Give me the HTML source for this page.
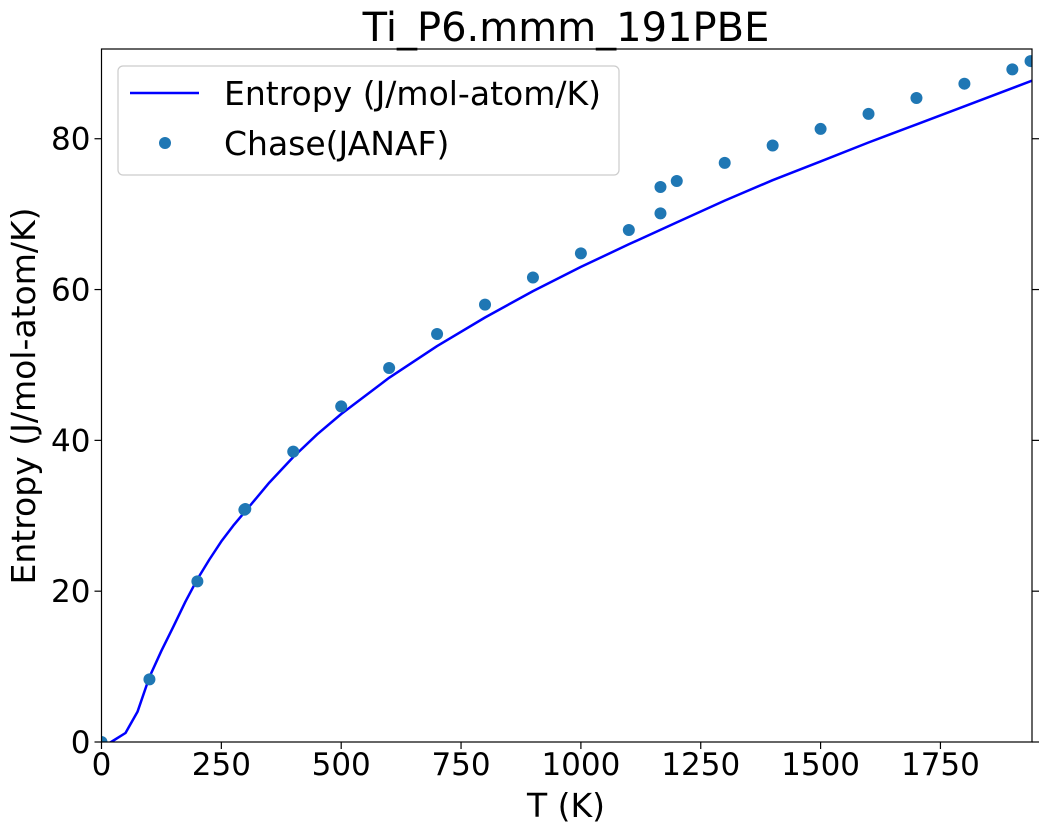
<!DOCTYPE html>
<html><head><meta charset="utf-8"><style>
body{margin:0;background:#fff;}
svg text{font-family:"DejaVu Sans","Liberation Sans",sans-serif;fill:#000;}
</style></head><body>
<svg id="chart" width="1044" height="833">
<text x="566" y="41" font-size="40" text-anchor="middle">Ti_P6.mmm_191PBE</text>
<g id="plot"></g>
<text x="566" y="817" font-size="33" text-anchor="middle">T (K)</text>
<text transform="translate(35,396) rotate(-90)" font-size="33" text-anchor="middle">Entropy (J/mol-atom/K)</text>
</svg>
<script>
const lineT=[0,12,25,50,75,100,125,150,175,200,225,250,275,300,350,400,450,500,600,700,800,900,1000,1100,1200,1300,1400,1500,1600,1700,1800,1941];
const lineS=[0,-0.3,0.2,1.2,4,8.6,12.1,15.3,18.6,21.6,24.2,26.6,28.7,30.6,34.4,37.8,40.8,43.5,48.3,52.5,56.3,59.8,63,66,68.9,71.8,74.5,77,79.5,81.9,84.3,87.7];
const ptT=[0,100,200,298,300,400,500,600,700,800,900,1000,1100,1166,1166,1200,1300,1400,1500,1600,1700,1800,1900,1938];
const ptS=[0,8.3,21.3,30.8,30.9,38.5,44.5,49.6,54.1,58.0,61.6,64.8,67.9,70.1,73.6,74.4,76.8,79.1,81.3,83.3,85.4,87.3,89.2,90.3];
const xTicks=[0,250,500,750,1000,1250,1500,1750];
const yTicks=[0,20,40,60,80];
const L=101.5,R=1032,T=49,B=742,xMax=1941,yMax=91.9;
const sx=v=>L+v/xMax*(R-L), sy=v=>B-v/yMax*(B-T);
const NS="http://www.w3.org/2000/svg",g=document.getElementById('plot');
function mk(tag,at,p){const e=document.createElementNS(NS,tag);for(const k in at)e.setAttribute(k,at[k]);(p||g).appendChild(e);return e;}
const cp=mk('clipPath',{id:'cp'});mk('rect',{x:L,y:T,width:R-L,height:B-T},cp);
let d=lineT.map((t,i)=>(i?'L':'M')+sx(t).toFixed(1)+','+sy(lineS[i]).toFixed(1)).join('');
const ln=mk('path',{d:d,fill:'none',stroke:'#0000ff','stroke-width':2.5,'stroke-linejoin':'round','clip-path':'url(#cp)'});


const pg=mk('g',{'clip-path':'url(#cp)'});
ptT.forEach((t,i)=>{const c=mk('circle',{cx:sx(t),cy:sy(ptS[i]),r:6,fill:'#1f77b4'},pg);

});
const fr=mk('rect',{x:L,y:T,width:R-L,height:B-T,fill:'none',stroke:'#000','stroke-width':1.2});


xTicks.forEach(v=>{const x=sx(v);mk('line',{x1:x,x2:x,y1:B,y2:B+7,stroke:'#000','stroke-width':1.2});
const tx=mk('text',{x:x,y:B+33,'font-size':31,'text-anchor':'middle'});tx.textContent=v;

});
yTicks.forEach(v=>{const y=sy(v);mk('line',{x1:L-7,x2:L,y1:y,y2:y,stroke:'#000','stroke-width':1.2});
mk('line',{x1:R,x2:R+7,y1:y,y2:y,stroke:'#000','stroke-width':1.2});
const tx=mk('text',{x:L-11,y:y+11,'font-size':31,'text-anchor':'end'});tx.textContent=v;

});
const lg=mk('g',{});


mk('rect',{x:118,y:66,width:501,height:109,rx:5,fill:'#fff',stroke:'#ccc','stroke-width':1.2},lg);
mk('line',{x1:130,x2:199,y1:93,y2:93,stroke:'#0000ff','stroke-width':2.5},lg);
mk('circle',{cx:165,cy:143,r:6,fill:'#1f77b4'},lg);
const t1=mk('text',{x:224,y:105,'font-size':33},lg);t1.textContent='Entropy (J/mol-atom/K)';


const t2=mk('text',{x:224,y:155,'font-size':33},lg);t2.textContent='Chase(JANAF)';


</script>
</body></html>
